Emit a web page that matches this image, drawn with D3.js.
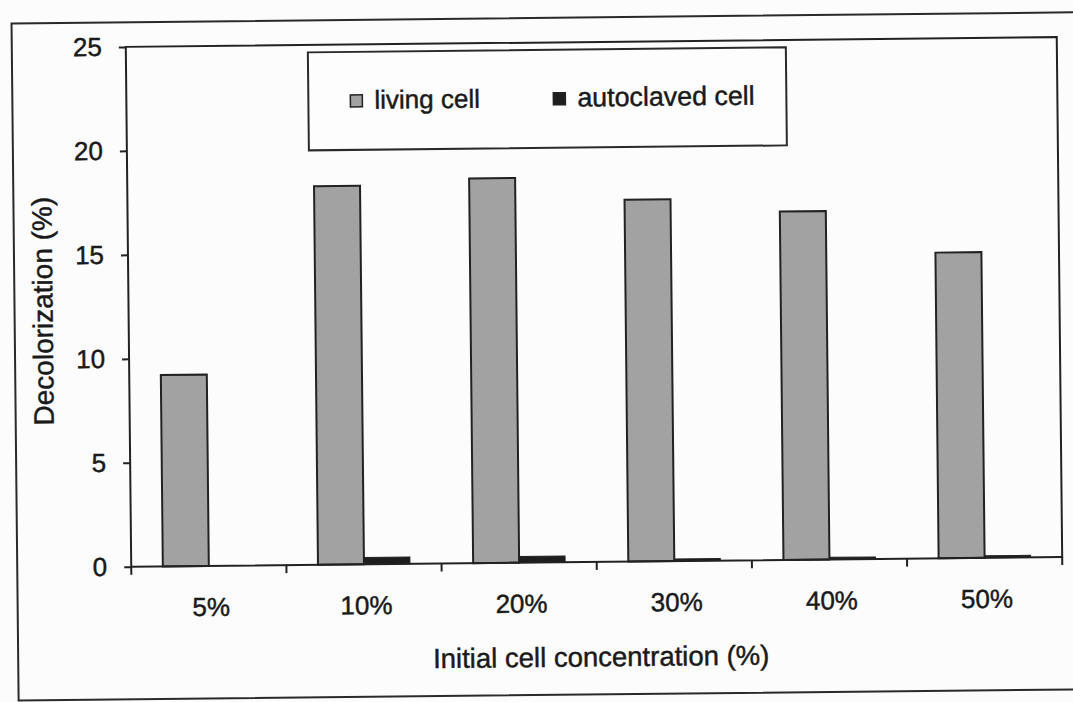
<!DOCTYPE html>
<html>
<head>
<meta charset="utf-8">
<script src="https://cdn.jsdelivr.net/npm/d3@7"></script>
<style>
  html, body { margin: 0; padding: 0; background: #fcfcfc; }
  svg { display: block; }
  text { font-family: "Liberation Sans", Arial, sans-serif; fill: #1a1a1a; stroke: #1a1a1a; stroke-width: 0.45px; }
</style>
</head>
<body>
<svg id="chart" width="1073" height="702"></svg>
<script>
// ---- data ----
const categories = ["5%", "10%", "20%", "30%", "40%", "50%"];
const seriesNames = ["living cell", "autoclaved cell"];
const livingCell = [9.2, 18.2, 18.5, 17.4, 16.75, 14.7];
const autoclavedCell = [0, 0.33, 0.3, 0.1, 0.1, 0.1];
const yTicks = [0, 5, 10, 15, 20, 25];
const seriesColors = ["#a2a2a2", "#1e1e1e"];
const xTitle = "Initial cell concentration (%)";
const yTitle = "Decolorization (%)";

const W = 1073, H = 702;
const svg = d3.select("#chart");
// the scanned figure is slightly tilted
const root = svg.append("g").attr("transform", `rotate(-0.6, ${W/2}, ${H/2})`);

const plot = { left: 129, right: 1060, top: 42.6, bottom: 562.5 };

// outer frame
root.append("rect")
  .attr("x", 15).attr("y", 18).attr("width", 1070).attr("height", 677)
  .attr("fill", "none").attr("stroke", "#2a2a2a").attr("stroke-width", 2);

const x0 = d3.scaleBand().domain(categories).range([plot.left, plot.right]).padding(0);
const x1 = d3.scaleBand().domain(seriesNames).range([0, x0.bandwidth()]).paddingInner(0).paddingOuter(0.687);
const y = d3.scaleLinear().domain([0, 25]).range([plot.bottom, plot.top]);

// bars
const data = categories.map((c, i) => ({ cat: c, vals: [livingCell[i], autoclavedCell[i]] }));
const groups = root.append("g").selectAll("g").data(data).join("g")
  .attr("transform", d => `translate(${x0(d.cat)},0)`);
groups.selectAll("rect").data(d => d.vals.map((v, j) => ({ v, s: seriesNames[j], j })))
  .join("rect")
  .attr("x", d => x1(d.s))
  .attr("width", x1.bandwidth())
  .attr("y", d => y(d.v))
  .attr("height", d => y(0) - y(d.v))
  .attr("fill", d => seriesColors[d.j])
  .attr("stroke", d => d.v > 0 ? "#222" : "none")
  .attr("stroke-width", d => d.j === 0 ? 2 : 1);

// plot frame
root.append("rect")
  .attr("x", plot.left).attr("y", plot.top)
  .attr("width", plot.right - plot.left).attr("height", plot.bottom - plot.top)
  .attr("fill", "none").attr("stroke", "#222").attr("stroke-width", 2);

// y axis
const yAxis = root.append("g").attr("transform", `translate(${plot.left},0)`)
  .call(d3.axisLeft(y).tickValues(yTicks).tickSize(7).tickPadding(17).tickFormat(d3.format("d")));
yAxis.select(".domain").remove();
yAxis.selectAll("line").attr("stroke", "#222").attr("stroke-width", 2);
yAxis.selectAll("text").attr("font-size", 26).attr("fill", "#1a1a1a")
  .attr("stroke", "#1a1a1a").attr("stroke-width", 0.45)
  .style("font-family", "'Liberation Sans', Arial, sans-serif");

// x axis: ticks at category boundaries
const boundaries = categories.map(c => x0(c)).concat([plot.right]);
const xAx = root.append("g");
xAx.selectAll("line").data(boundaries).join("line")
  .attr("x1", d => d).attr("x2", d => d)
  .attr("y1", plot.bottom).attr("y2", plot.bottom + 8)
  .attr("stroke", "#222").attr("stroke-width", 2);
xAx.selectAll("text").data(categories).join("text")
  .attr("x", d => x0(d) + x0.bandwidth() / 2 + 2)
  .attr("y", plot.bottom + 50)
  .attr("text-anchor", "middle")
  .attr("font-size", 26)
  .text(d => d);

// axis titles
root.append("text")
  .attr("x", 598).attr("y", 667)
  .attr("text-anchor", "middle").attr("font-size", 27.5)
  .text(xTitle);
root.append("text")
  .attr("transform", "translate(53,306) rotate(-90)")
  .attr("text-anchor", "middle").attr("font-size", 28)
  .text(yTitle);

// legend
const lg = root.append("g");
lg.append("rect").attr("x", 311).attr("y", 50).attr("width", 478).attr("height", 98)
  .attr("fill", "#fdfdfd").attr("stroke", "#2a2a2a").attr("stroke-width", 2);
const legendPos = [{ sx: 359, tx: 377 }, { sx: 562, tx: 580 }];
seriesNames.forEach((s, i) => {
  lg.append("rect")
    .attr("x", legendPos[i].sx - 6).attr("y", 93).attr("width", 12).attr("height", 12)
    .attr("fill", seriesColors[i]).attr("stroke", "#222").attr("stroke-width", 1.5);
  lg.append("text")
    .attr("x", legendPos[i].tx).attr("y", 107)
    .attr("font-size", i === 0 ? 26 : 26.8)
    .text(s);
});
</script>
</body>
</html>
